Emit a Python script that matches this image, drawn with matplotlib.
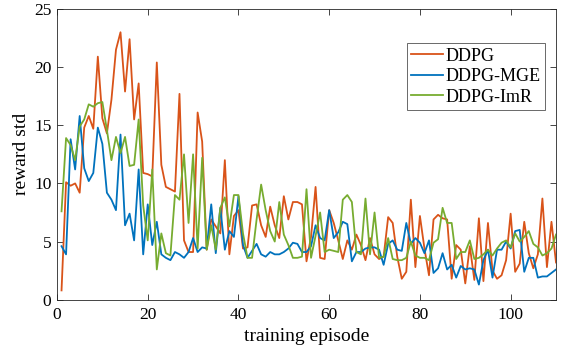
import matplotlib
matplotlib.use("Agg")
import matplotlib.pyplot as plt
import numpy as np

plt.rcParams['font.family'] = ['Liberation Serif', 'DejaVu Serif']
plt.rcParams['mathtext.fontset'] = 'stix'

episodes = list(range(1, 111))

ddpg = [0.8, 10.1, 9.8, 10.0, 9.2, 14.8, 15.8, 14.7, 20.9, 15.6,
        14.3, 17.2, 21.5, 23.0, 17.9, 22.4, 15.5, 18.6, 10.9, 10.8,
        10.6, 20.4, 11.6, 9.7, 9.5, 9.3, 17.7, 5.1, 4.1, 4.1,
        16.1, 13.6, 4.3, 6.9, 6.3, 5.7, 12.0, 3.9, 7.2, 7.7,
        4.4, 4.5, 8.1, 8.2, 6.4, 5.4, 8.0, 6.4, 5.3, 8.9,
        6.9, 8.4, 8.4, 8.2, 3.3, 5.4, 9.7, 3.6, 3.5, 7.7,
        6.6, 5.1, 3.5, 5.1, 4.3, 5.6, 4.7, 3.4, 5.3, 3.9,
        3.5, 3.7, 7.1, 6.6, 3.7, 1.8, 2.4, 8.6, 2.8, 7.2,
        4.4, 2.1, 6.9, 7.3, 7.0, 6.9, 1.8, 4.7, 4.3, 1.4,
        4.6, 1.7, 7.0, 1.6, 6.6, 2.5, 1.8, 2.1, 3.4, 7.4,
        2.4, 3.1, 6.7, 4.0, 2.7, 3.9, 8.7, 2.8, 6.7, 3.2]

ddpg_mge = [4.6, 3.9, 13.8, 11.2, 15.8, 11.3, 10.2, 10.9, 14.8, 13.4,
            9.2, 8.6, 7.7, 14.2, 6.4, 7.4, 5.1, 11.2, 3.9, 8.2,
            4.7, 6.7, 3.9, 3.6, 3.4, 4.1, 3.9, 3.6, 4.1, 5.3,
            4.1, 4.5, 4.4, 8.2, 4.0, 7.9, 4.3, 5.9, 5.4, 8.9,
            4.7, 3.6, 4.2, 4.8, 3.9, 3.7, 4.1, 3.9, 3.9, 4.1,
            4.4, 4.9, 4.8, 4.1, 4.1, 4.6, 6.4, 5.3, 5.1, 7.7,
            5.3, 5.8, 6.7, 6.5, 3.3, 4.1, 4.1, 4.4, 4.5, 4.5,
            4.3, 3.0, 4.8, 5.1, 4.3, 4.2, 6.6, 4.8, 5.3, 4.9,
            4.0, 5.1, 2.3, 2.7, 4.0, 2.6, 3.0, 1.9, 2.9, 2.6,
            2.7, 2.6, 1.3, 3.4, 4.3, 1.9, 4.3, 4.3, 5.0, 4.4,
            5.9, 6.0, 2.4, 3.6, 3.6, 1.9, 2.0, 2.0, 2.3, 2.6]

ddpg_imr = [7.6, 13.9, 13.3, 12.0, 14.9, 15.5, 16.8, 16.6, 16.9, 17.0,
            14.6, 12.0, 14.0, 12.6, 14.0, 11.5, 11.6, 15.5, 8.1, 5.1,
            11.2, 2.6, 5.7, 4.0, 3.8, 9.0, 8.6, 12.5, 6.6, 12.5,
            4.4, 12.2, 4.3, 6.4, 4.3, 7.9, 8.8, 6.3, 9.0, 9.0,
            5.7, 3.6, 3.6, 6.9, 9.9, 7.7, 5.9, 5.0, 8.4, 5.6,
            4.7, 3.6, 3.6, 3.7, 9.5, 3.6, 5.5, 7.5, 4.1, 4.3,
            4.2, 4.1, 8.6, 9.0, 8.4, 4.1, 3.9, 8.7, 3.9, 7.5,
            3.6, 3.7, 5.3, 3.5, 3.4, 3.4, 3.6, 5.0, 3.8, 3.6,
            3.6, 3.4, 4.9, 5.2, 7.9, 6.6, 6.6, 3.5, 4.1, 4.1,
            5.1, 3.5, 3.6, 3.9, 4.3, 3.8, 4.4, 4.9, 5.1, 4.5,
            5.7, 5.0, 5.4, 5.9, 4.8, 4.5, 3.8, 4.0, 4.4, 5.6]

series_names = ['DDPG', 'DDPG-MGE', 'DDPG-ImR']
colors = ['#D95319', '#0072BD', '#77AC30']
xticks = [0, 20, 40, 60, 80, 100]
yticks = [0, 5, 10, 15, 20, 25]

fig = plt.figure(figsize=(5.61, 3.54), dpi=100)
ax = fig.add_axes([0.1016, 0.1534, 0.8895, 0.8212])

for data, name, c in zip([ddpg, ddpg_mge, ddpg_imr], series_names, colors):
    ax.plot(episodes, data, color=c, lw=1.3, label=name)

ax.set_xlim(0, 110)
ax.set_ylim(0, 25)
ax.set_xticks(xticks)
ax.set_yticks(yticks)
ax.tick_params(direction='in', top=True, right=True, length=4, width=0.6,
               colors='#262626', labelsize=12.5, labelcolor='black')
ax.tick_params(axis='x', pad=5)
ax.tick_params(axis='y', pad=4)
for s in ax.spines.values():
    s.set_color('#262626')
    s.set_linewidth(0.6)

ax.set_xlabel('training episode', fontsize=14, labelpad=4)
ax.set_ylabel('reward std', fontsize=14, labelpad=3)

leg = ax.legend(loc='upper right', bbox_to_anchor=(0.978, 0.883), fontsize=13,
                frameon=True, fancybox=False, edgecolor='#262626', borderpad=0.25,
                handlelength=1.75, handletextpad=0.15, labelspacing=0.2,
                borderaxespad=0)
leg.get_frame().set_linewidth(0.6)

fig.savefig('out.png', dpi=100)
